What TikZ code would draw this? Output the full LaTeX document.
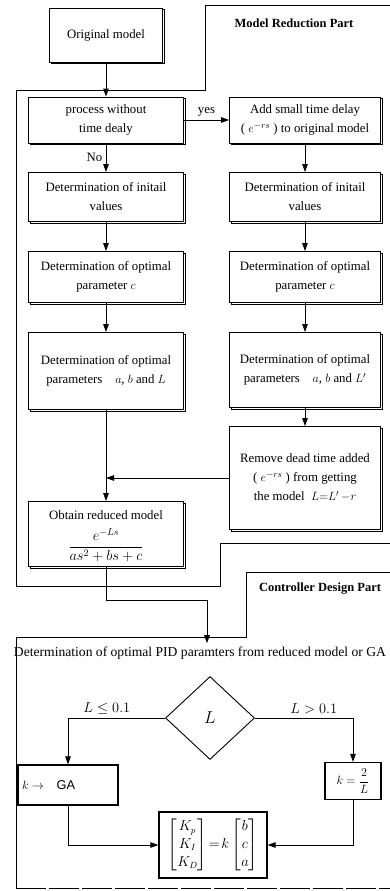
\documentclass[tikz,border=0pt]{standalone}
\usepackage{amsmath}
\usepackage{fontspec}
\setmainfont{Liberation Serif}
\setsansfont{Liberation Sans}
\usetikzlibrary{arrows.meta,shapes.geometric,shadows}

\tikzset{
	stage/.style={draw, fill=white, line width=0.8pt, align=center, inner sep=2pt,
		copy shadow={shadow xshift=1.5pt, shadow yshift=-1.5pt}},
	ctrlbox/.style={draw, fill=white, line width=1.2pt, align=center, inner sep=3pt},
	arr/.style={-{Triangle[length=8pt,width=5.5pt]}, line width=0.9pt},
	partline/.style={line width=1pt},
	parttitle/.style={font=\fontsize{12.5}{14}\selectfont\bfseries},
	branch/.style={font=\fontsize{14}{16}\selectfont}
}

\begin{document}
\begin{tikzpicture}[x=1pt,y=-1pt,font=\fontsize{12.8}{19}\selectfont]
	\useasboundingbox (0,0) rectangle (390,891);
	%
	\draw[partline] (390,6) -- (205,6) -- (205,90) -- (16,90) -- (16,586)
		-- (220,586) -- (220,543) -- (390,543);
	\draw[partline] (390,572) -- (246,572) -- (246,637) -- (16,637) -- (16,888);
	\draw[partline, dash pattern=on 30pt off 3pt] (16,888) -- (390,888);
	\node[parttitle] (mrp) at (294,23) {Model Reduction Part};
	\node[parttitle] (cdp) at (320,589) {Controller Design Part};
	%
	\node[stage, minimum width=113, minimum height=54] (orig) at (106,35) {Original model};
	\node[stage, minimum width=155, minimum height=46] (proc) at (106,120) {process without\\time dealy};
	\node[stage, minimum width=151, minimum height=46] (delay) at (305,120) {Add small time delay\\( $e^{-rs}$ ) to original model};
	\node[stage, minimum width=155, minimum height=49] (initL) at (106,197) {Determination of initail\\values};
	\node[stage, minimum width=151, minimum height=49] (initR) at (305,197) {Determination of initail\\values};
	\node[stage, minimum width=155, minimum height=51] (cL) at (106,277) {Determination of optimal\\parameter $c$};
	\node[stage, minimum width=151, minimum height=51] (cR) at (305,277) {Determination of optimal\\parameter $c$};
	\node[stage, minimum width=155, minimum height=77] (abL) at (106,371) {Determination of optimal\\parameters\quad$a$, $b$ and $L$};
	\node[stage, minimum width=151, minimum height=75] (abR) at (305,370) {Determination of optimal\\parameters\quad$a$, $b$ and $L'$};
	\node[stage, minimum width=151, minimum height=103] (remove) at (305,478) {Remove dead time\ added\\( $e^{-rs}$ ) from getting\\the model\ \ $L{=}L'\,{-}r$};
	\node[stage, minimum width=155, minimum height=65, inner sep=0pt] (reduced) at (106,534)
		{\begin{tabular}{@{}c@{}}Obtain reduced model\\[3pt]{\fontsize{14.5}{16}\selectfont$\dfrac{e^{-Ls}}{as^2+bs+c}$}\end{tabular}};
	%
	\node[font=\fontsize{13.6}{16}\selectfont] (pidtxt) at (200,653) {Determination of\ optimal PID paramters from reduced model or\ GA};
	\node[draw, diamond, line width=0.9pt, minimum width=89, minimum height=83, inner sep=0pt,
		font=\fontsize{17}{18}\selectfont] (dia) at (210,718) {$L$};
	\node[ctrlbox, text width=92, inner sep=4pt, align=left, minimum height=40] (ga) at (68,785)
		{$k\rightarrow$\quad\textsf{GA}};
	\node[ctrlbox, minimum width=56, minimum height=37, inner sep=1pt] (kL) at (353,781) {$k=\dfrac{2}{L}$};
	\node[ctrlbox, minimum width=108, minimum height=66, font=\fontsize{13.5}{16}\selectfont] (pid) at (213,845)
		{\renewcommand{\arraystretch}{1.1}$\begin{bmatrix}K_p\\K_I\\K_D\end{bmatrix}\!=\!k\begin{bmatrix}b\\c\\a\end{bmatrix}$};
	%
	\draw[arr] (orig) -- (proc);
	\draw[arr] (proc) -- node[above]{yes} (delay);
	\draw[arr] (proc) -- node[left]{No} (initL);
	\draw[arr] (delay) -- (initR);
	\draw[arr] (initL) -- (cL);
	\draw[arr] (initR) -- (cR);
	\draw[arr] (cL) -- (abL);
	\draw[arr] (cR) -- (abR);
	\draw[arr] (abR) -- (remove);
	\draw[arr] (abL) -- (reduced);
	\draw[arr] (remove.west) -- (remove.west -| abL.south);
	\coordinate (bend) at (207,600);
	\draw[arr] (reduced) |- (bend) -- (bend |- pidtxt.north);
	%
	\draw[arr] (dia.west) -| node[branch, above, pos=0.3]{$L\leq 0.1$} (ga.north);
	\draw[arr] (dia.east) -| node[branch, above, pos=0.3]{$L>0.1$} (kL.north);
	\draw[arr] (ga.south) |- (pid.west);
	\draw[arr] (kL.south) |- (pid.east);
\end{tikzpicture}
\end{document}
